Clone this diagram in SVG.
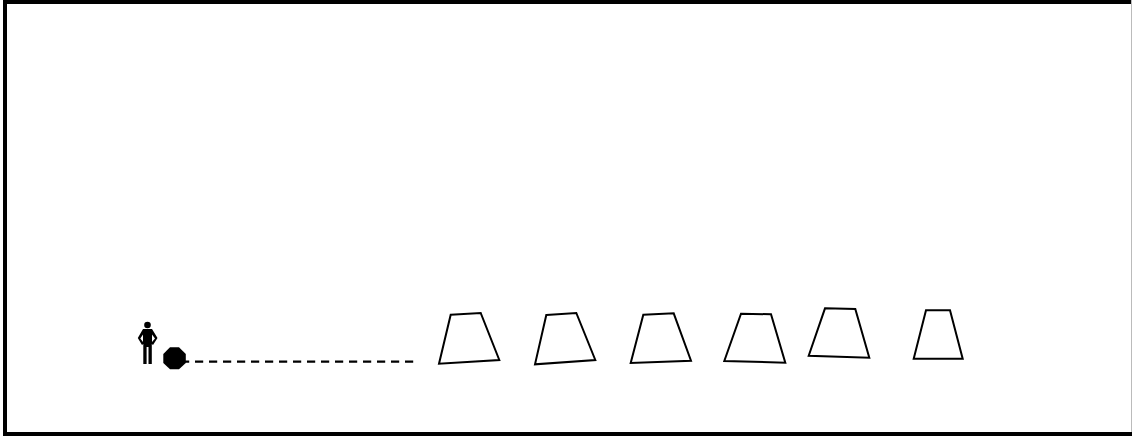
<svg xmlns="http://www.w3.org/2000/svg" width="1132" height="437" viewBox="0 0 1132 437">
<style>
.t{fill:none;stroke:#000;stroke-width:2;stroke-linejoin:miter}
.c{fill:none;stroke:#000;stroke-width:2.200;stroke-dasharray:8.200 5.800}
</style>
<rect width="1132" height="437" fill="#fff"/>
<rect id="frame" x="5" y="2" width="1140" height="432" fill="none" stroke="#000" stroke-width="4"/>
<line x1="1131.500" y1="0" x2="1131.500" y2="432" stroke="#bbb"/>
<g id="person"><circle cx="147.500" cy="325" r="3.300"/><path d="M143 329H152L157.500 338L153 345L151.800 344V364H148.500V347H146.600V364H143.300V344L142 345L137.800 338ZM143 334.500L140.300 338.500L143 342ZM152 334.500L155 338.500L152 342Z" fill-rule="evenodd"/></g>
<g id="stop"><polygon points="170,347.300 179,347.300 185.800,354 185.800,363 179,369.300 170,369.300 163.300,363 163.300,354"/></g>
<g id="connectors"><line class="c" x1="181" y1="361.700" x2="414" y2="361.700"/></g>
<g id="t1"><polygon class="t" points="450.700,314.700 480.700,313 499.300,360 439,363.700"/></g>
<g id="t2"><polygon class="t" points="546.300,315 576.300,313 595.300,360 535,364.300"/></g>
<g id="t3"><polygon class="t" points="643.300,314.700 673.700,313.300 691,360.700 630.700,363"/></g>
<g id="t4"><polygon class="t" points="741,313.700 771,314.300 785.300,362.700 724.300,361"/></g>
<g id="t5"><polygon class="t" points="825,308.300 855.300,309 869.300,357.700 808.700,355.700"/></g>
<g id="t6"><polygon class="t" points="926,310.300 950,310.300 962.700,358.700 913.700,358.700"/></g>
</svg>
